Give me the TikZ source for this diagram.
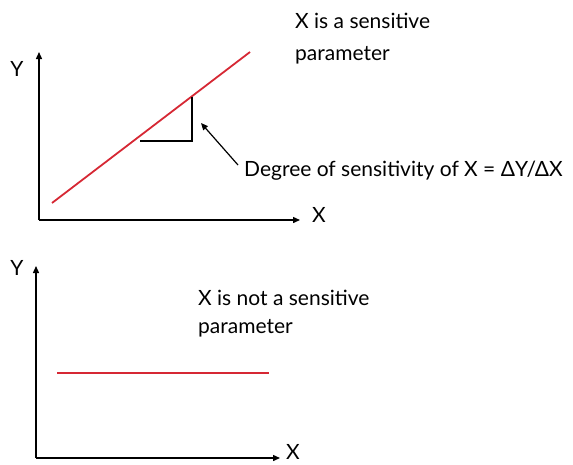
\documentclass[tikz,border=0pt]{standalone}
\usepackage{fontspec}
\setmainfont{Lato}
\usetikzlibrary{arrows.meta}
\definecolor{slope}{RGB}{214,40,52}
\tikzset{>={Triangle[length=7pt,width=6pt]},every node/.style={font=\fontsize{21}{24}\selectfont,inner sep=0pt},
  axis/.style={line width=1.4pt,->},curve/.style={line width=1.8pt,slope},note/.style={anchor=base west,align=left}}
\begin{document}
\begin{tikzpicture}[x=1pt,y=-1pt]
\useasboundingbox (0,0) rectangle (573,464);
% sensitive parameter
\coordinate (o1) at (39,220);\coordinate (y1) at (39,52);\coordinate (x1) at (300,220);
\draw[axis] (o1)--(y1);\draw[axis] (o1)--(x1);
\node (ly1) at (17,69){Y};\node[anchor=west] (lx1) at (312,215){X};
\coordinate (a1) at (52,203);\coordinate (b1) at (250,52);\draw[curve] (a1)--(b1);
\coordinate (t1) at (140,141);\coordinate (t2) at (192,141);\coordinate (t3) at (192,97);
\draw[line width=1.2pt] (t1)--(t2)--(t3);
\node[note] (deg) at (244,176){Degree of sensitivity of X = ΔY/ΔX};
\coordinate (p1) at (238,165);\coordinate (p2) at (201,123);\draw[line width=1.2pt,->] (p1)--(p2);
\node[note] (txt1) at (295,28){X is a sensitive};\node[note] (txt2) at (295,60){parameter};
% not sensitive
\coordinate (o2) at (36,458);\coordinate (y2) at (36,266);\coordinate (x2) at (280,458);
\draw[axis] (o2)--(y2);\draw[axis] (o2)--(x2);
\node (ly2) at (17,268){Y};\node[anchor=west] (lx2) at (286,452){X};
\coordinate (a2) at (57,373);\coordinate (b2) at (269,373);\draw[curve] (a2)--(b2);
\node[note] (txt3) at (198,305){X is not a sensitive};\node[note] (txt4) at (198,333){parameter};
\end{tikzpicture}
\end{document}
